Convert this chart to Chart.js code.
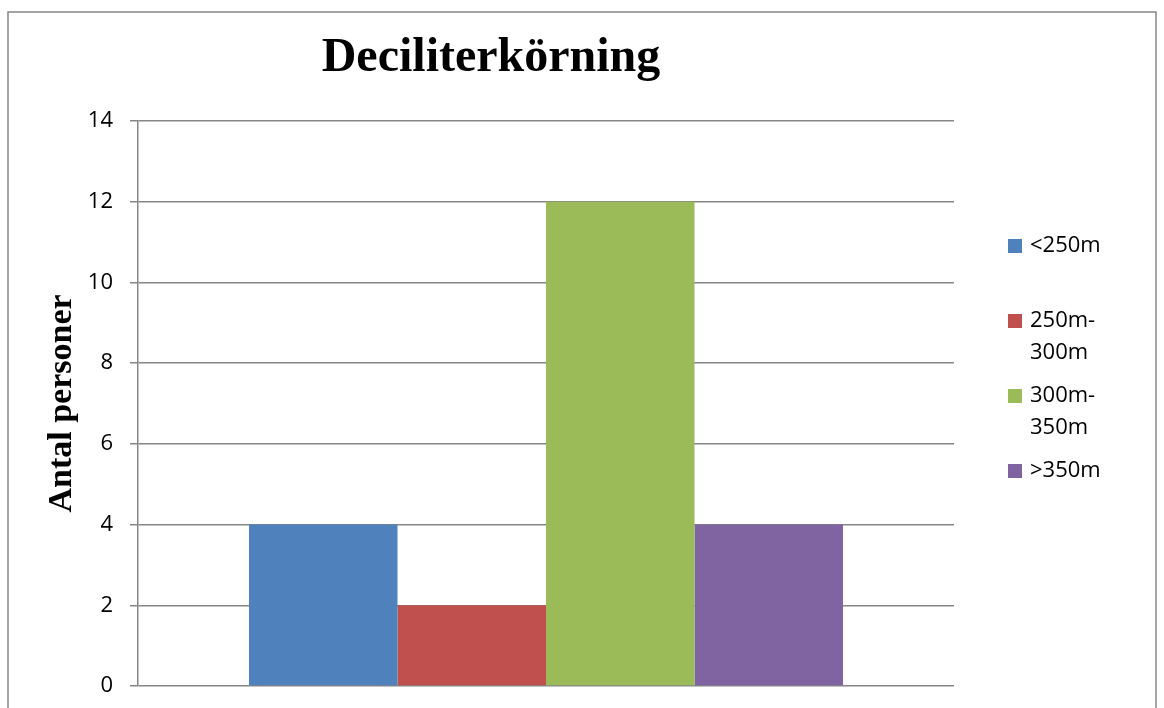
<!DOCTYPE html>
<html>
<head>
<meta charset="utf-8">
<title>Deciliterkörning</title>
<script src="https://cdn.jsdelivr.net/npm/chart.js@4"></script>
<style>
  body { margin: 0; background: #fff; }
  #wrap { position: relative; width: 1164px; height: 708px; }
</style>
</head>
<body>
<div id="wrap"><canvas id="barchart"></canvas></div>
<script>
const chartTitle = 'Deciliterkörning';
const yTitle = 'Antal personer';
const categories = [''];
const seriesNames = [['<250m'], ['250m-', '300m'], ['300m-', '350m'], ['>350m']];
const seriesValues = [4, 2, 12, 4];
const seriesColors = ['#4f81bd', '#c0504d', '#9bbb59', '#8064a2'];
const yMin = 0;
const yMax = 14;
const yStep = 2;

// frame, title and legend drawn by hand
const decorations = {
  id: 'decorations',
  afterDraw(chart) {
    const c = chart.ctx;
    c.save();
    c.strokeStyle = '#868686';
    c.lineWidth = 1.5;
    c.strokeRect(8, 12, 1148, 740);

    c.fillStyle = '#000';
    c.font = 'bold 48px "Liberation Serif"';
    c.textAlign = 'center';
    c.textBaseline = 'alphabetic';
    c.fillText(chartTitle, 491, 71);

    c.font = '22px "Open Sans"';
    c.textAlign = 'left';
    c.textBaseline = 'middle';
    let y = 246;
    chart.data.datasets.forEach(ds => {
      c.fillStyle = ds.backgroundColor;
      c.fillRect(1008, y - 7, 14, 14);
      c.fillStyle = '#000';
      ds.label.forEach((line, k) => c.fillText(line, 1030, y + k * 32));
      y += 75;
    });
    c.restore();
  }
};

const ctx = document.getElementById('barchart');

new Chart(ctx, {
  type: 'bar',
  data: {
    labels: categories,
    datasets: seriesValues.map((v, i) => ({
      label: seriesNames[i],
      data: [v],
      backgroundColor: seriesColors[i],
      borderWidth: 0,
      categoryPercentage: 0.728,
      barPercentage: 1
    }))
  },
  options: {
    responsive: true,
    maintainAspectRatio: false,
    animation: false,
    layout: { padding: { top: 121, bottom: 22, left: 0, right: 210 } },
    plugins: {
      legend: { display: false },
      title: { display: false },
      tooltip: { enabled: false }
    },
    scales: {
      x: { display: false },
      y: {
        min: yMin,
        max: yMax,
        ticks: {
          stepSize: yStep,
          padding: 17,
          color: '#000',
          font: { family: '"Open Sans"', size: 22 }
        },
        grid: { color: '#868686', lineWidth: 1.5, tickLength: 8 },
        border: { color: '#868686', width: 1.5 },
        title: {
          display: true,
          text: yTitle,
          color: '#000',
          font: { family: '"Liberation Serif"', size: 34, weight: 'bold' },
          padding: { top: 42, bottom: 0 }
        },
        afterFit(scale) {
          scale.width = 138;
          scale.paddingTop = 0;
          scale.paddingBottom = 0;
        }
      }
    }
  },
  plugins: [decorations]
});
</script>
</body>
</html>
